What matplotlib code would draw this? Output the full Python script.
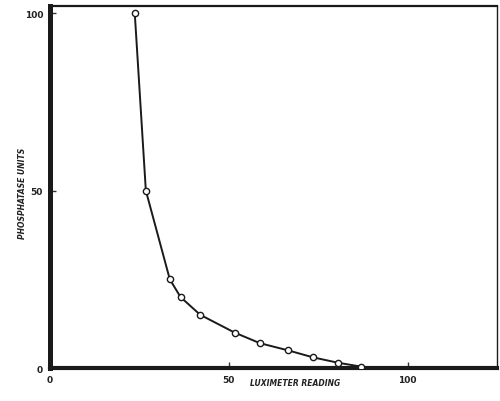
import matplotlib
matplotlib.use("Agg")
import matplotlib.pyplot as plt

# luximeter reading vs phosphatase units
luximeter = [23.7, 26.8, 33.5, 36.5, 42.0, 51.6, 58.7, 66.5, 73.6, 80.5, 87.0]
phosphatase = [100, 50, 25, 20, 15, 10, 7, 5, 3, 1.5, 0.4]

x_ticks = [0, 50, 100]
y_ticks = [0, 50, 100]

fig = plt.figure(figsize=(5.0, 4.02), dpi=100)
ax = fig.add_axes([0.1, 0.082, 0.894, 0.9006])

ax.plot(luximeter, phosphatase, color='#1a1a1a', lw=1.4, zorder=2)
ax.plot(luximeter, phosphatase, ls='none', marker='o', ms=4.5, mfc='white',
        mec='#1a1a1a', mew=1.0, zorder=3)

ax.set_xlim(0, 125)
ax.set_ylim(0, 102)

for side, lw in [('left', 3.6), ('bottom', 3.0), ('top', 1.6), ('right', 1.0)]:
    ax.spines[side].set_linewidth(lw)
    ax.spines[side].set_color('#1a1a1a')

ax.set_xticks(x_ticks)
ax.set_yticks(y_ticks)
ax.tick_params(direction='in', length=4, width=1, color='#333333',
               labelsize=6.5, pad=5, labelcolor='#222222')
ax.set_xticklabels([str(t) for t in x_ticks], fontweight='bold')
ax.set_yticklabels([str(t) for t in y_ticks], fontweight='bold')

fig.text(0.59, 0.045, 'LUXIMETER READING', ha='center', va='center',
         fontsize=5.5, style='italic', fontweight='bold', color='#222222')
fig.text(0.045, 0.52, 'PHOSPHATASE UNITS', ha='center', va='center',
         rotation=90, fontsize=5.5, style='italic', fontweight='bold',
         color='#222222')

fig.savefig('out.png', dpi=100, facecolor='white')
